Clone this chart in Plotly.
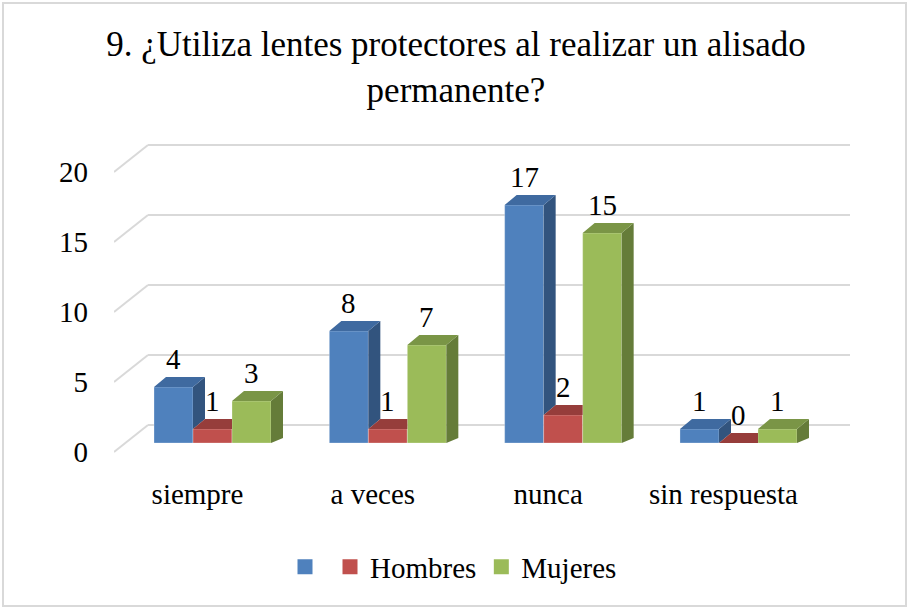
import plotly.graph_objects as go

# ---------------- data ----------------
categories = ["siempre", "a veces", "nunca", "sin respuesta"]
series_names = ["", "Hombres", "Mujeres"]
values_serie1 = [4, 8, 17, 1]
values_hombres = [1, 1, 2, 0]
values_mujeres = [3, 7, 15, 1]
y_ticks = [0, 5, 10, 15, 20]
title_text = "9. ¿Utiliza lentes protectores al realizar un alisado<br>permanente?"

series_values = [values_serie1, values_hombres, values_mujeres]

# ---------------- style ----------------
FONT = "Liberation Serif, Times New Roman, serif"
FS = 29
front_colors = ["#4F81BD", "#C0504D", "#9BBB59"]
top_colors = ["#3F6AA0", "#963D3B", "#7A9546"]
side_colors = ["#32547E", "#7E3230", "#657C39"]
GRID = "#D9D9D9"

W, H = 909, 609
ML, MR, MT, MB = 114, 59, 140, 149
PW, PH = W - ML - MR, H - MT - MB
CAT_PX = 175.33      # px between category centres
CENTER0_PX = 212.5   # px of first category centre
UNIT_PX = 14.0       # px per value unit
ZERO_PX = 443.0      # px of value 0 on the bar front plane
BARGAP = 1 - 117.0 / CAT_PX
BW = (1 - BARGAP) / 3
DX = 12.0 / CAT_PX           # depth shift in x (data units)
DY_TOP = 10.0 / UNIT_PX      # depth shift at bar top
DY_BOT = 5.0 / UNIT_PX       # depth shift at bar bottom
WALL_X = (148 - CENTER0_PX) / CAT_PX
BACK_OFF = (ZERO_PX - 425) / UNIT_PX
FRONT_OFF = (452 - ZERO_PX) / UNIT_PX

x_range = [(ML - CENTER0_PX) / CAT_PX, (W - MR - CENTER0_PX) / CAT_PX]
y_range = [(ZERO_PX - (H - MB)) / UNIT_PX, (ZERO_PX - MT) / UNIT_PX]


def px_to_paper_x(px):
    return (px - ML) / PW


def px_to_paper_y(py):
    return (H - MB - py) / PH


x_idx = list(range(len(categories)))
fig = go.Figure()

# front faces (bars)
for k, (name, vals) in enumerate(zip(series_names, series_values)):
    fig.add_trace(go.Bar(
        x=x_idx, y=vals, name=name, showlegend=False,
        marker=dict(color=front_colors[k], line=dict(color="rgba(255,255,255,0.35)", width=0.8)),
        hoverinfo="skip",
    ))

# depth faces (top + side), derived from the data
n_series = len(series_values)
for k in range(n_series):
    tx, ty, sx, sy = [], [], [], []
    for i in x_idx:
        v = series_values[k][i]
        xl = i + (k - (n_series) / 2) * BW
        xr = xl + BW
        nxt = series_values[k + 1][i] if k + 1 < n_series else None
        # top face
        if nxt is not None and nxt >= v + DY_TOP:
            tx += [xl, xr, xr, xl + DX, xl, None]
            ty += [v, v, v + DY_TOP, v + DY_TOP, v, None]
        else:
            tx += [xl, xr, xr + DX, xl + DX, xl, None]
            ty += [v, v, v + DY_TOP, v + DY_TOP, v, None]
        # side face
        if nxt is None:
            sx += [xr, xr, xr + DX, xr + DX, xr, None]
            sy += [0, v, v + DY_TOP, DY_BOT, 0, None]
        elif nxt < v:
            sx += [xr, xr, xr + DX, xr + DX, xr, None]
            sy += [nxt, v, v + DY_TOP, nxt + DY_TOP, nxt, None]
    fig.add_trace(go.Scatter(x=sx, y=sy, mode="lines", fill="toself",
                             fillcolor=side_colors[k], line=dict(width=0),
                             hoverinfo="skip", showlegend=False))
    fig.add_trace(go.Scatter(x=tx, y=ty, mode="lines", fill="toself",
                             fillcolor=top_colors[k], line=dict(width=0),
                             hoverinfo="skip", showlegend=False))

# legend entries
for k, name in enumerate(series_names):
    fig.add_trace(go.Scatter(x=[None], y=[None], mode="markers", name=name,
                             marker=dict(symbol="square", size=15, color=front_colors[k]),
                             showlegend=True))

# value labels
annotations = []
for k in range(n_series):
    for i in x_idx:
        v = series_values[k][i]
        annotations.append(dict(
            x=i + (k - (n_series - 1) / 2) * BW, y=v, xref="x", yref="y",
            text=str(v), showarrow=False, yshift=28,
            font=dict(family=FONT, size=FS, color="black"),
        ))

# 3D-style gridlines (wall + perspective)
shapes = []
for t in y_ticks:
    shapes.append(dict(type="line", xref="x", yref="y", layer="below",
                       x0=x_range[0], y0=t - FRONT_OFF, x1=WALL_X, y1=t + BACK_OFF,
                       line=dict(color=GRID, width=2)))
    shapes.append(dict(type="line", xref="x", yref="y", layer="below",
                       x0=WALL_X, y0=t + BACK_OFF, x1=x_range[1], y1=t + BACK_OFF,
                       line=dict(color=GRID, width=2)))
# chart border
shapes.append(dict(type="rect", xref="paper", yref="paper",
                   x0=px_to_paper_x(3), x1=px_to_paper_x(906),
                   y0=px_to_paper_y(606), y1=px_to_paper_y(3),
                   line=dict(color=GRID, width=2), fillcolor="rgba(0,0,0,0)"))

fig.update_layout(
    width=W, height=H,
    margin=dict(l=ML, r=MR, t=MT, b=MB),
    paper_bgcolor="white", plot_bgcolor="white",
    barmode="group", bargap=BARGAP, bargroupgap=0,
    font=dict(family=FONT, size=FS, color="black"),
    title=dict(text=title_text, x=456 / W, xref="container", xanchor="center",
               y=1 - 56 / H, yref="container", yanchor="top",
               font=dict(family=FONT, size=35, color="black")),
    xaxis=dict(range=x_range, tickvals=x_idx, ticktext=categories,
               showgrid=False, zeroline=False, showline=False,
               ticklabelshift=-15, ticklabelstandoff=14,
               tickfont=dict(family=FONT, size=FS, color="black")),
    yaxis=dict(range=y_range, tickvals=y_ticks, showgrid=False, zeroline=False,
               showline=False, ticklabelshift=9, ticklabelstandoff=25,
               tickfont=dict(family=FONT, size=FS, color="black")),
    legend=dict(orientation="h", x=px_to_paper_x(285), xanchor="left",
                y=px_to_paper_y(567), yanchor="middle",
                font=dict(family=FONT, size=FS, color="black"),
                bgcolor="rgba(0,0,0,0)"),
    annotations=annotations,
    shapes=shapes,
)

fig.write_html("out.html", config={"displayModeBar": False},
               post_script="document.body.style.margin='0';")
